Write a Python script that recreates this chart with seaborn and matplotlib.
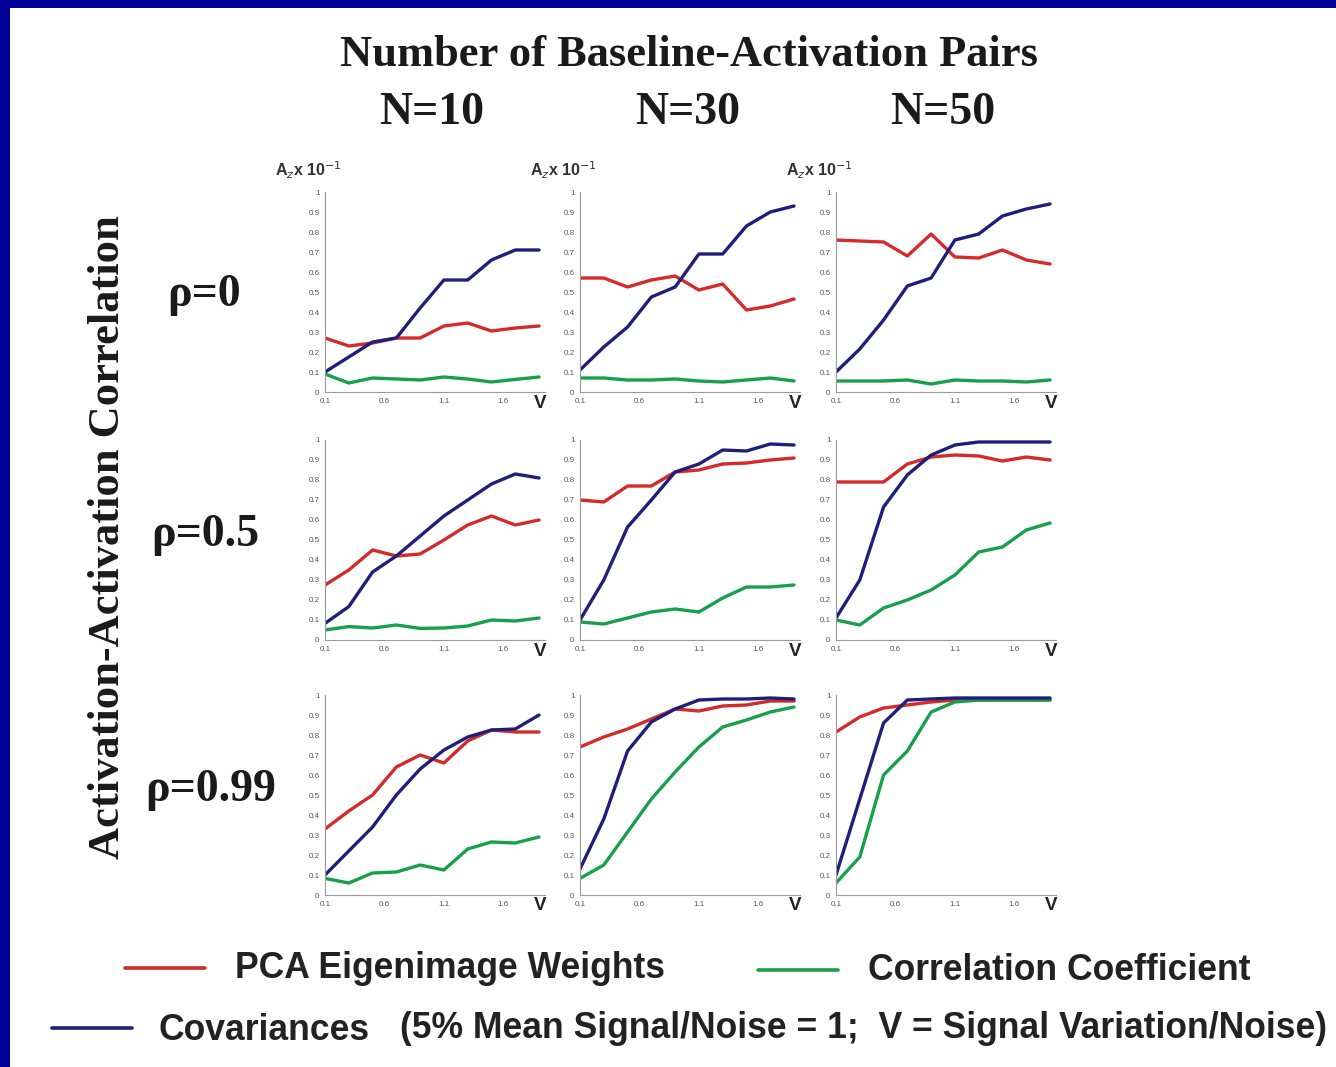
import matplotlib
matplotlib.use("Agg")
import pandas as pd
import matplotlib.pyplot as plt
from matplotlib.lines import Line2D
from matplotlib.patches import Rectangle
import seaborn as sns

# signal variation / noise (x axis)
V = [0.1, 0.3, 0.5, 0.7, 0.9, 1.1, 1.3, 1.5, 1.7, 1.9]

n_labels = ["N=10", "N=30", "N=50"]
rho_labels = ["ρ=0", "ρ=0.5", "ρ=0.99"]
x_ticks = [0.1, 0.6, 1.1, 1.6]
x_tick_labels = ["0.1", "0.6", "1.1", "1.6"]
y_ticks = [0, 0.1, 0.2, 0.3, 0.4, 0.5, 0.6, 0.7, 0.8, 0.9, 1.0]
y_tick_labels = ["0", "0.1", "0.2", "0.3", "0.4", "0.5", "0.6", "0.7", "0.8", "0.9", "1"]

# rho = 0
pca_r0_n10 = [0.27, 0.23, 0.245, 0.27, 0.27, 0.33, 0.345, 0.305, 0.32, 0.33]
cov_r0_n10 = [0.10, 0.175, 0.25, 0.27, 0.42, 0.56, 0.56, 0.66, 0.71, 0.71]
cc_r0_n10 = [0.09, 0.045, 0.07, 0.065, 0.06, 0.075, 0.065, 0.05, 0.063, 0.075]

pca_r0_n30 = [0.57, 0.57, 0.525, 0.56, 0.58, 0.51, 0.54, 0.41, 0.43, 0.465]
cov_r0_n30 = [0.11, 0.225, 0.325, 0.475, 0.525, 0.69, 0.69, 0.83, 0.90, 0.93]
cc_r0_n30 = [0.07, 0.07, 0.06, 0.06, 0.065, 0.055, 0.05, 0.06, 0.07, 0.055]

pca_r0_n50 = [0.76, 0.755, 0.75, 0.68, 0.79, 0.675, 0.67, 0.71, 0.66, 0.64]
cov_r0_n50 = [0.10, 0.215, 0.36, 0.53, 0.57, 0.76, 0.79, 0.88, 0.915, 0.94]
cc_r0_n50 = [0.055, 0.055, 0.055, 0.06, 0.04, 0.06, 0.055, 0.055, 0.05, 0.06]

# rho = 0.5
pca_r05_n10 = [0.275, 0.35, 0.45, 0.42, 0.43, 0.50, 0.575, 0.62, 0.575, 0.60]
cov_r05_n10 = [0.083, 0.167, 0.34, 0.42, 0.52, 0.62, 0.70, 0.78, 0.83, 0.81]
cc_r05_n10 = [0.05, 0.067, 0.06, 0.075, 0.058, 0.06, 0.07, 0.10, 0.095, 0.11]

pca_r05_n30 = [0.70, 0.69, 0.77, 0.77, 0.84, 0.85, 0.88, 0.885, 0.90, 0.91]
cov_r05_n30 = [0.10, 0.30, 0.565, 0.70, 0.84, 0.88, 0.95, 0.945, 0.98, 0.975]
cc_r05_n30 = [0.09, 0.08, 0.11, 0.14, 0.155, 0.14, 0.21, 0.265, 0.265, 0.275]

pca_r05_n50 = [0.79, 0.79, 0.79, 0.88, 0.915, 0.925, 0.92, 0.895, 0.915, 0.90]
cov_r05_n50 = [0.11, 0.30, 0.665, 0.825, 0.925, 0.975, 0.99, 0.99, 0.99, 0.99]
cc_r05_n50 = [0.10, 0.075, 0.16, 0.20, 0.25, 0.325, 0.44, 0.465, 0.55, 0.585]

# rho = 0.99
pca_r099_n10 = [0.33, 0.42, 0.50, 0.64, 0.70, 0.66, 0.77, 0.825, 0.815, 0.815]
cov_r099_n10 = [0.10, 0.22, 0.34, 0.50, 0.63, 0.725, 0.79, 0.825, 0.83, 0.90]
cc_r099_n10 = [0.083, 0.06, 0.11, 0.115, 0.15, 0.125, 0.23, 0.265, 0.26, 0.29]

pca_r099_n30 = [0.74, 0.79, 0.83, 0.88, 0.93, 0.92, 0.945, 0.95, 0.97, 0.97]
cov_r099_n30 = [0.13, 0.38, 0.72, 0.865, 0.93, 0.975, 0.98, 0.98, 0.985, 0.98]
cc_r099_n30 = [0.083, 0.15, 0.315, 0.48, 0.615, 0.74, 0.84, 0.875, 0.915, 0.94]

pca_r099_n50 = [0.815, 0.89, 0.935, 0.95, 0.965, 0.975, 0.975, 0.975, 0.975, 0.975]
cov_r099_n50 = [0.10, 0.48, 0.86, 0.975, 0.98, 0.985, 0.985, 0.985, 0.985, 0.985]
cc_r099_n50 = [0.06, 0.19, 0.60, 0.72, 0.915, 0.965, 0.975, 0.975, 0.975, 0.975]

panels = [
    [(pca_r0_n10, cc_r0_n10, cov_r0_n10), (pca_r0_n30, cc_r0_n30, cov_r0_n30), (pca_r0_n50, cc_r0_n50, cov_r0_n50)],
    [(pca_r05_n10, cc_r05_n10, cov_r05_n10), (pca_r05_n30, cc_r05_n30, cov_r05_n30), (pca_r05_n50, cc_r05_n50, cov_r05_n50)],
    [(pca_r099_n10, cc_r099_n10, cov_r099_n10), (pca_r099_n30, cc_r099_n30, cov_r099_n30), (pca_r099_n50, cc_r099_n50, cov_r099_n50)],
]

methods = ["PCA", "CC", "COV"]
palette = {"PCA": "#d42a2a", "CC": "#17a04a", "COV": "#1f1f7a"}

sns.set_style("white")
plt.rcParams["font.family"] = ["Liberation Serif", "DejaVu Serif"]

W, H = 1336, 1067
fig = plt.figure(figsize=(W / 100, H / 100), dpi=100)
fig.patch.set_facecolor("#000099")
fig.add_artist(Rectangle((10 / W, 0), 1 - 10 / W, 1 - 8 / H, transform=fig.transFigure,
                         facecolor="white", edgecolor="none", zorder=0))


def fx(x):
    return x / W


def fy(y):
    return 1 - y / H


col_left = [325, 580, 836]
row_bottom = [392, 640, 895]
ax_w, ax_h = 220, 200

for r in range(3):
    for c in range(3):
        ax = fig.add_axes([fx(col_left[c]), fy(row_bottom[r]), ax_w / W, ax_h / H])
        ax.set_facecolor("none")
        pca, cc, cov = panels[r][c]
        df = pd.DataFrame({
            "V": V * 3,
            "Az": pca + cc + cov,
            "method": [m for m in methods for _ in V],
        })
        sns.lineplot(data=df, x="V", y="Az", hue="method", palette=palette,
                     linewidth=2.4, legend=False, ax=ax)
        ax.set_xlim(0.1, 1.95)
        ax.set_ylim(0, 1.0)
        ax.set_xticks(x_ticks)
        ax.set_xticklabels(x_tick_labels)
        ax.set_yticks(y_ticks)
        ax.set_yticklabels(y_tick_labels)
        ax.set_xlabel("")
        ax.set_ylabel("")
        ax.tick_params(direction="in", length=2.5, width=0.6, labelsize=5.8,
                       colors="#777777", labelcolor="#555555", pad=4)
        for lab in ax.get_xticklabels() + ax.get_yticklabels():
            lab.set_family("Liberation Sans")
        for s in ["top", "right"]:
            ax.spines[s].set_visible(False)
        for s in ["left", "bottom"]:
            ax.spines[s].set_color("#999999")
            ax.spines[s].set_linewidth(0.8)
        ax.text(0.98, -0.055, "V", transform=ax.transAxes, ha="center", va="center",
                fontsize=13.5, fontweight="bold", family="Liberation Sans", color="#222222")
        if r == 0:
            fig.text(fx(col_left[c] - 50), fy(170), r"A$_z$x 10$^{-1}$", ha="left", va="center",
                     fontsize=11.5, fontweight="bold", family="Liberation Sans", color="#333333")

serif = dict(fontweight="bold", color="#1a1a1a", family="Liberation Serif")
fig.text(fx(689), fy(55), "Number of Baseline-Activation Pairs", ha="center", va="center",
         fontsize=32, **serif)
for c, lab in enumerate(n_labels):
    fig.text(fx([432, 688, 943][c]), fy(113), lab, ha="center", va="center", fontsize=33, **serif)
for r, lab in enumerate(rho_labels):
    fig.text(fx([204, 205, 211][r]), fy([295, 535, 790][r]), lab, ha="center", va="center",
             fontsize=33, **serif)
fig.text(fx(108), fy(537), "Activation-Activation Correlation", ha="center", va="center",
         rotation=90, fontsize=32, **serif)

# legend
sans = dict(fontweight="bold", color="#222222", family="Liberation Sans", va="center", ha="left")
for (x0, x1, y, col) in [(125, 205, 968, palette["PCA"]), (758, 838, 970, palette["CC"]),
                         (52, 132, 1028, palette["COV"])]:
    fig.add_artist(Line2D([fx(x0), fx(x1)], [fy(y), fy(y)], transform=fig.transFigure,
                          color=col, linewidth=2.6))
fig.text(fx(235), fy(968), "PCA Eigenimage Weights", fontsize=25.6, **sans)
fig.text(fx(868), fy(970), "Correlation Coefficient", fontsize=25.6, **sans)
fig.text(fx(158), fy(1030), "Covariances", fontsize=25.6, **sans)
fig.text(fx(400), fy(1028), "(5% Mean Signal/Noise = 1;  V = Signal Variation/Noise)", fontsize=25.6, **sans)

fig.savefig("out.png", dpi=100, facecolor=fig.get_facecolor())
